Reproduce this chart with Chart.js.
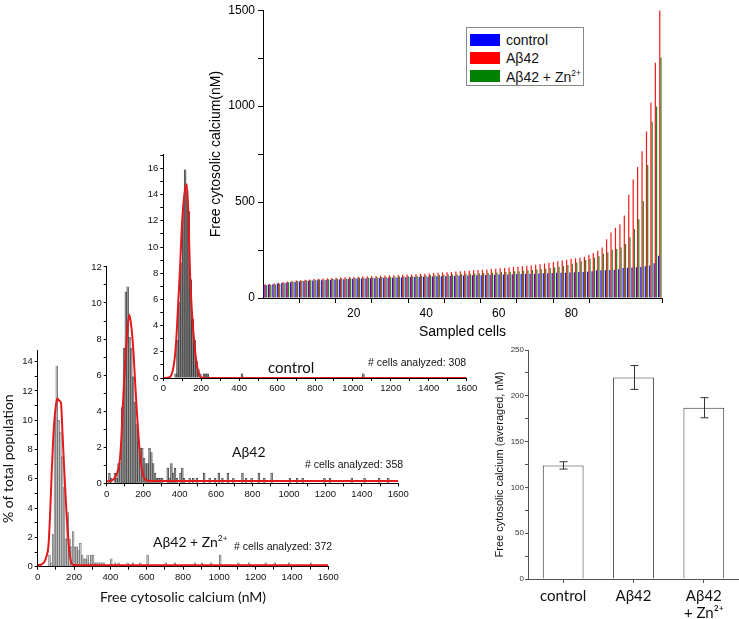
<!DOCTYPE html>
<html><head><meta charset="utf-8">
<script src="https://cdn.jsdelivr.net/npm/chart.js@4.4.1/dist/chart.umd.min.js"></script>
<style>
html,body{margin:0;padding:0;background:#fff;}
#wrap{position:relative;width:739px;height:619px;overflow:hidden;background:#fff;}
canvas{position:absolute;left:0;top:0;}
.t{position:absolute;white-space:nowrap;color:#111;line-height:1;}
.lato{font-family:Lato,'Open Sans',sans-serif;font-size:14px;}
.ar{font-family:'Liberation Sans',Arial,sans-serif;font-size:10.5px;}
#legend{position:absolute;left:466px;top:27px;width:116px;height:57px;border:1px solid #888;background:#fff;font-family:'Liberation Sans',Arial,sans-serif;font-size:14px;color:#111;}
#legend .row{position:absolute;left:3px;height:18px;}
#legend .sw{position:absolute;left:0;top:3px;width:30px;height:12px;}
#legend .lb{position:absolute;left:36px;top:1px;white-space:nowrap;}
sup{font-size:0.6em;}
</style></head><body>
<div id="wrap">
<canvas id="cZn" width="739" height="619"></canvas>
<canvas id="cAb" width="739" height="619"></canvas>
<canvas id="cCtl" width="739" height="619"></canvas>
<canvas id="cMain" width="739" height="619"></canvas>
<canvas id="cAvg" width="739" height="619"></canvas>
<div id="legend">
  <div class="row" style="top:3px"><div class="sw" style="background:#0000ff"></div><div class="lb">control</div></div>
  <div class="row" style="top:21px"><div class="sw" style="background:#ff0000"></div><div class="lb">Aβ42</div></div>
  <div class="row" style="top:39px"><div class="sw" style="background:#008000"></div><div class="lb">Aβ42 + Zn<sup>2+</sup></div></div>
</div>
<div class="t lato" style="left:268px;top:360px;font-size:15px;">control</div>
<div class="t ar" style="left:368px;top:357px;"># cells analyzed: 308</div>
<div class="t lato" style="left:232px;top:445px;">Aβ42</div>
<div class="t ar" style="left:305px;top:459px;"># cells analyzed: 358</div>
<div class="t lato" style="left:153px;top:534px;">Aβ42 + Zn<sup>2+</sup></div>
<div class="t ar" style="left:234px;top:541px;"># cells analyzed: 372</div>
</div>
<script>
// ---------- DATA ----------
// sorted per-cell free cytosolic calcium (nM), sampled cells
const controlSorted = [68,70,72,75,78,80,82,84,86,88,
 90,91,92,93,94,95,96,97,98,99,
 100,101,101,102,103,103,104,105,105,106,
 107,107,108,109,109,110,111,111,112,113,
 113,114,115,115,116,117,117,118,119,119,
 120,121,121,122,123,123,124,125,125,126,
 127,127,128,129,129,130,131,131,132,133,
 134,135,136,137,139,144,145,145,146,147,
 150,156,158,159,160,162,165,170,181,220];
const abSorted = [72,74,77,80,83,86,88,91,93,95,
 97,99,100,102,103,104,105,107,108,109,
 110,111,112,113,114,115,116,117,118,119,
 120,121,122,123,124,126,127,128,130,131,
 133,134,136,138,140,141,143,144,146,147,
 149,151,153,155,157,159,161,163,165,168,
 170,173,176,180,184,188,192,196,200,204,
 207,210,215,224,235,246,263,306,341,366,
 383,430,538,618,683,765,868,1017,1226,1500];
const znSorted = [67,68,70,74,78,82,85,88,90,92,
 93,95,96,97,98,99,100,101,102,103,
 104,105,105,106,107,108,109,110,110,111,
 112,113,114,114,115,116,117,118,119,120,
 121,122,123,124,125,126,127,128,129,130,
 131,132,133,135,136,137,139,140,142,144,
 146,148,150,153,156,159,163,167,172,178,
 185,192,198,204,210,217,231,239,251,256,
 264,282,317,359,411,505,693,919,998,1253];
const seriesNames = ['control', 'Aβ42', 'Aβ42 + Zn²⁺'];
const mainXTicks = [20, 40, 60, 80];

// histograms: bin centre (nM) and % of total population
const ctlBins = [65,75,85,95,105,115,125,135,145,155,165,175,185,195,215,225,235,415,1055];
const ctlPct  = [0.32,2.9,5.8,8.8,12.9,15.9,14.3,12.7,7.5,4.5,2.9,1.3,0.65,0.32,0.32,0.32,0.32,0.32,0.32];
const ctlCurveX = [0,30,45,60,70,79,88,97,106,115,124,132,141,150,158,166,175,188,200,220,1600];
const ctlCurveY = [0,0.05,0.3,1.5,3.3,5.8,8.3,11.3,13.3,14.4,14.8,12.5,8.0,5.3,3.6,2.3,1.2,0.3,0.05,0,0];

const abBins = [15,25,45,55,65,75,85,95,105,115,125,135,145,155,165,175,185,195,205,215,225,235,245,255,265,275,285,295,305,335,345,355,365,375,385,405,415,425,455,475,495,535,565,595,615,635,665,695,745,765,795,835,865,905,1005,1045,1075,1195,1225,1345,1415,1495,1545];
const abPct  = [0.56,0.28,0.56,0.28,1.1,1.1,4.2,7.5,10.6,10.9,8.1,7.5,5.9,4.5,3.3,2.2,1.95,1.95,1.4,1.1,1.1,1.95,1.7,1.1,0.56,0.28,0.28,0.28,0.28,0.84,0.28,1.1,0.56,0.84,0.28,0.56,0.84,0.28,0.28,0.28,0.28,0.56,0.28,0.28,0.56,0.28,0.56,0.28,0.56,0.28,0.28,0.56,0.28,0.56,0.28,0.28,0.28,0.28,0.28,0.28,0.28,0.28,0.28];
const abCurveX = [0,25,45,58,70,80,88,97,106,115,124,135,146,155,164,176,188,200,215,240,1600];
const abCurveY = [0.1,0.15,0.3,0.6,1.1,2.4,4.2,5.9,7.4,8.7,9.35,8.7,7.4,5.8,4.2,2.4,1.1,0.45,0.18,0.13,0.13];

const znBins = [65,75,85,95,105,115,125,135,145,155,165,175,185,195,205,215,225,235,245,255,265,275,285,295,305,315,325,335,345,355,365,405,425,445,495,525,565,605,705,755,865,905,955,1005,1105,1165,1255,1305,1385,1505];
const znPct  = [0.8,0.27,2.2,10.2,13.7,10.0,9.2,7.5,5.4,1.9,3.7,1.9,1.35,2.4,1.35,1.35,1.1,1.6,0.8,0.54,0.54,0.8,0.27,0.8,0.8,0.27,0.27,0.27,0.27,0.27,0.27,0.54,0.27,0.27,0.27,0.27,0.27,0.8,0.27,0.27,0.27,0.27,0.27,0.8,0.27,0.27,0.27,0.27,0.27,0.27];
const znCurveX = [0,20,35,48,59,68,77,85,92,100,108,118,128,137,147,158,169,178,187,200,230,1600];
const znCurveY = [0.1,0.15,0.3,0.7,1.4,3.5,6.4,8.6,10.0,11.0,11.5,11.35,11.2,9.0,6.4,3.8,1.8,0.7,0.2,0.12,0.1,0.1];

// averaged values
const avgLabels = ['control', 'Aβ42', ['Aβ42', '+ Zn²⁺']];
const avgMeans = [124, 220, 187];
const avgErr = [4, 13, 11];

// ---------- CHARTS ----------
Chart.defaults.font.family = "'Liberation Sans', Arial, sans-serif";
Chart.defaults.color = '#111';
const narrow = "'Liberation Sans Narrow', 'Liberation Sans', Arial, sans-serif";
const lato = "Lato, 'Open Sans', sans-serif";
const W = 739, H = 619;

// Main sorted-cells chart
const cellLabels = controlSorted.map((_, i) => i + 1);
new Chart(document.getElementById('cMain'), {
  type: 'bar',
  data: {
    labels: cellLabels,
    datasets: [
      { label: seriesNames[0], data: controlSorted, backgroundColor: '#1515e6' },
      { label: seriesNames[1], data: abSorted, backgroundColor: '#f01c1c' },
      { label: seriesNames[2], data: znSorted, backgroundColor: '#1c8a1c' }
    ]
  },
  options: {
    responsive: false, animation: false,
    layout: { padding: { left: 204, right: 77, top: 6, bottom: 274 } },
    datasets: { bar: { barPercentage: 1, categoryPercentage: 0.82, borderWidth: 0 } },
    plugins: { legend: { display: false }, tooltip: { enabled: false } },
    scales: {
      x: { display: false, offset: true },
      x2: {
        type: 'linear', position: 'bottom', min: 0, max: 100,
        border: { display: true, color: '#000', width: 1 },
        grid: { drawOnChartArea: false, tickLength: 5,
          color: c => (c.tick && (c.tick.value === 0 || c.tick.value === 100)) ? 'rgba(0,0,0,0)' : '#000' },
        ticks: { stepSize: 10, autoSkip: false, maxRotation: 0, padding: 3, color: '#000', font: { size: 12 },
          callback: v => mainXTicks.includes(v) ? String(v) : '' },
        title: { display: true, text: 'Sampled cells', color: '#000', font: { size: 14 }, padding: { top: 0, bottom: 4 } },
        afterFit: s => { s.height = 47; }
      },
      y: {
        min: 0, max: 1500,
        border: { display: true, color: '#000', width: 1 },
        grid: { drawOnChartArea: false, tickLength: 5, color: '#000' },
        ticks: { stepSize: 250, autoSkip: false, padding: 3, color: '#000', font: { size: 12 },
          callback: v => v % 500 === 0 ? String(v) : '' },
        title: { display: true, text: 'Free cytosolic calcium(nM)', color: '#000', font: { size: 14 }, padding: { top: 4, bottom: 0 } },
        afterFit: s => { s.width = 59; }
      }
    }
  }
});

// histogram panels
function makeHist(id, o) {
  const pad = { left: o.l - o.yw, right: W - o.r, top: o.t, bottom: H - (o.b + o.xh) };
  return new Chart(document.getElementById(id), {
    type: 'bar',
    data: {
      datasets: [
        { type: 'line', order: 0, data: o.cx.map((x, i) => ({ x: x, y: o.cy[i] })),
          borderColor: '#e3191c', borderWidth: 2, pointRadius: 0, cubicInterpolationMode: 'monotone', fill: false },
        { type: 'bar', order: 1, data: o.bins.map((x, i) => ({ x: x, y: o.pct[i] })),
          backgroundColor: o.fill, borderColor: o.edge, borderWidth: 0.6,
          barPercentage: 1, categoryPercentage: 1 }
      ]
    },
    options: {
      responsive: false, animation: false,
      layout: { padding: pad },
      plugins: { legend: { display: false }, tooltip: { enabled: false } },
      scales: {
        x: {
          type: 'linear', min: 0, max: 1600, offset: false,
          border: { display: true, color: '#000', width: 1 },
          grid: { drawOnChartArea: false, tickLength: 3, color: '#000', offset: false },
          ticks: { stepSize: 100, autoSkip: false, maxRotation: 0, padding: 2, color: '#111',
            font: { family: narrow, size: 9.5 }, callback: v => v % 200 === 0 ? String(v) : '' },
          title: o.xtitle ? { display: true, text: o.xtitle, color: '#111', font: { family: lato, size: 14 }, padding: { top: 0, bottom: 4 } } : { display: false },
          afterFit: s => { s.height = o.xh; }
        },
        y: {
          min: 0, max: o.ymax,
          border: { display: true, color: '#000', width: 1 },
          grid: { drawOnChartArea: false, tickLength: 3, color: '#000' },
          ticks: { stepSize: 1, autoSkip: false, includeBounds: false, padding: 2, color: '#111',
            font: { family: narrow, size: 9.5 }, callback: v => v % 2 === 0 ? String(v) : '' },
          title: o.ytitle ? { display: true, text: o.ytitle, color: '#111', font: { family: lato, size: 14, lineHeight: 1 }, padding: { top: 0, bottom: 0 } } : { display: false },
          afterFit: s => { s.width = o.yw; }
        }
      }
    }
  });
}

makeHist('cCtl', { l: 163.3, r: 466.7, t: 154, b: 378, yw: 30, xh: 20, ymax: 17.1,
  bins: ctlBins, pct: ctlPct, cx: ctlCurveX, cy: ctlCurveY, fill: '#858585', edge: '#222' });
makeHist('cAb', { l: 106.7, r: 398.3, t: 266, b: 483.3, yw: 30, xh: 20, ymax: 12.05,
  bins: abBins, pct: abPct, cx: abCurveX, cy: abCurveY, fill: '#9a9a9a', edge: '#333' });
makeHist('cZn', { l: 37.7, r: 328.3, t: 350.7, b: 566.7, yw: 36.7, xh: 43.3, ymax: 14.75,
  bins: znBins, pct: znPct, cx: znCurveX, cy: znCurveY, fill: '#c4c4c4', edge: '#555',
  ytitle: '% of total population', xtitle: 'Free cytosolic calcium (nM)' });

// averaged bar chart with error bars
const errorBars = {
  id: 'errorBars',
  afterDatasetsDraw(chart) {
    const ctx = chart.ctx, ys = chart.scales.y, meta = chart.getDatasetMeta(0);
    ctx.save();
    ctx.strokeStyle = '#333'; ctx.lineWidth = 1;
    meta.data.forEach((bar, i) => {
      const yt = ys.getPixelForValue(avgMeans[i] + avgErr[i]);
      const yb = ys.getPixelForValue(avgMeans[i] - avgErr[i]);
      const x = Math.round(bar.x) + 0.5;
      ctx.beginPath();
      ctx.moveTo(x, yt); ctx.lineTo(x, yb);
      ctx.moveTo(x - 4, yt); ctx.lineTo(x + 4, yt);
      ctx.moveTo(x - 4, yb); ctx.lineTo(x + 4, yb);
      ctx.stroke();
    });
    ctx.restore();
  }
};
new Chart(document.getElementById('cAvg'), {
  type: 'bar',
  data: { labels: avgLabels, datasets: [{ data: avgMeans, backgroundColor: '#ffffff', borderColor: '#333', borderWidth: 1,
    barPercentage: 0.58, categoryPercentage: 1 }] },
  options: {
    responsive: false, animation: false,
    layout: { padding: { left: 489, right: 0, top: 350, bottom: 0 } },
    plugins: { legend: { display: false }, tooltip: { enabled: false } },
    scales: {
      x: {
        border: { display: true, color: '#555', width: 1 },
        grid: { drawOnChartArea: false, tickLength: 4, color: '#555', offset: false },
        ticks: { padding: 5, color: '#111', font: { family: lato, size: 15, lineHeight: 1.1 }, maxRotation: 0 },
        afterFit: s => { s.height = 40; }
      },
      y: {
        min: 0, max: 250,
        border: { display: true, color: '#555', width: 1 },
        grid: { drawOnChartArea: false, tickLength: 3, color: '#555' },
        ticks: { stepSize: 25, autoSkip: false, padding: 1, color: '#333', font: { family: narrow, size: 8 },
          callback: v => v % 50 === 0 ? String(v) : '' },
        title: { display: true, text: 'Free cytosolic calcium (averaged, nM)', color: '#111', font: { size: 11 }, padding: { top: 4, bottom: 0 } },
        afterFit: s => { s.width = 39; }
      }
    }
  },
  plugins: [errorBars]
});
</script>
</body></html>
